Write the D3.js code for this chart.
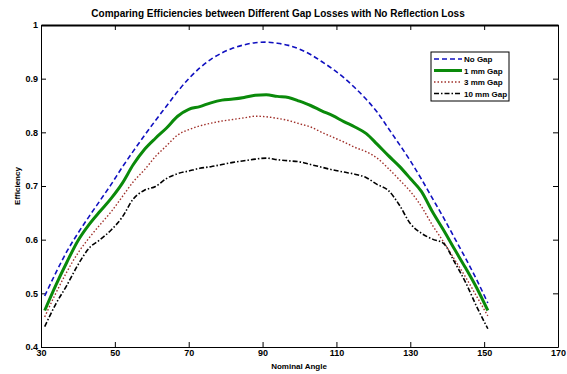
<!DOCTYPE html>
<html>
<head>
<meta charset="utf-8">
<script src="https://cdn.jsdelivr.net/npm/d3@7/dist/d3.min.js"></script>
<style>
  html, body { margin: 0; padding: 0; background: #fff; }
  svg text { font-family: "Liberation Sans", Arial, sans-serif; font-weight: bold; fill: #000; }
</style>
</head>
<body>
<svg id="chart" width="567" height="374"></svg>
<script>
// Nominal angle (degrees) at which each efficiency was sampled
const angles = [31, 34, 37, 40, 43, 46, 49, 52, 55, 58, 61, 64, 67, 70, 73, 76, 79, 82, 85, 88,
                91, 94, 97, 100, 103, 106, 109, 112, 115, 118, 121, 124, 127, 130, 133, 136, 139, 142, 145, 148, 151];

const noGap = [0.495, 0.538, 0.578, 0.612, 0.643, 0.673, 0.703, 0.735, 0.765, 0.794, 0.822, 0.849, 0.876, 0.900,
               0.920, 0.936, 0.948, 0.957, 0.963, 0.967, 0.968, 0.966, 0.962, 0.955, 0.945, 0.932, 0.918, 0.902,
               0.883, 0.862, 0.838, 0.808, 0.778, 0.747, 0.713, 0.677, 0.641, 0.603, 0.565, 0.525, 0.482];

const gap1mm = [0.468, 0.515, 0.558, 0.598, 0.628, 0.653, 0.677, 0.705, 0.740, 0.768, 0.789, 0.808, 0.830, 0.843,
                0.848, 0.855, 0.860, 0.862, 0.865, 0.869, 0.870, 0.867, 0.865, 0.858, 0.850, 0.840, 0.831, 0.820,
                0.810, 0.798, 0.778, 0.757, 0.737, 0.714, 0.690, 0.652, 0.618, 0.582, 0.547, 0.510, 0.468];

const gap3mm = [0.456, 0.500, 0.540, 0.575, 0.603, 0.628, 0.652, 0.680, 0.708, 0.730, 0.755, 0.775, 0.795, 0.805,
                0.812, 0.817, 0.821, 0.824, 0.827, 0.830, 0.829, 0.826, 0.822, 0.816, 0.810, 0.800, 0.791, 0.782,
                0.772, 0.764, 0.752, 0.733, 0.712, 0.690, 0.662, 0.627, 0.596, 0.563, 0.530, 0.494, 0.458];

const gap10mm = [0.438, 0.480, 0.515, 0.553, 0.584, 0.600, 0.618, 0.642, 0.676, 0.692, 0.699, 0.714, 0.723, 0.728,
                 0.733, 0.736, 0.740, 0.744, 0.747, 0.750, 0.752, 0.749, 0.747, 0.745, 0.740, 0.735, 0.730, 0.726,
                 0.722, 0.716, 0.703, 0.692, 0.665, 0.630, 0.612, 0.601, 0.593, 0.558, 0.520, 0.475, 0.434];

const seriesNames = ["No Gap", "1 mm Gap", "3 mm Gap", "10 mm Gap"];
const xTicks = [30, 50, 70, 90, 110, 130, 150, 170];
const yTicks = [0.4, 0.5, 0.6, 0.7, 0.8, 0.9, 1];

const titleText = "Comparing Efficiencies between Different Gap Losses with No Reflection Loss";
const xLabel = "Nominal Angle";
const yLabel = "Efficiency";

// line styles per series
const styles = [
  { color: "#1010c0", width: 1.6, dash: "5,3" },
  { color: "#0a8a0a", width: 3,   dash: null },
  { color: "#a0302a", width: 1.4, dash: "1.5,2" },
  { color: "#000000", width: 1.6, dash: "5,2,1.5,2" }
];

const svg = d3.select("#chart");
const m = { left: 41, right: 558, top: 25, bottom: 347 };

const x = d3.scaleLinear().domain([30, 170]).range([m.left, m.right]);
const y = d3.scaleLinear().domain([0.4, 1]).range([m.bottom, m.top]);

const tickLen = 5;

// axes: bottom and left with labels, top and right mirrored ticks
const gx = svg.append("g").attr("transform", `translate(0,${m.bottom})`)
  .call(d3.axisBottom(x).tickValues(xTicks).tickSizeInner(-tickLen).tickSizeOuter(0).tickPadding(3).tickFormat(d3.format("d")));
const gy = svg.append("g").attr("transform", `translate(${m.left},0)`)
  .call(d3.axisLeft(y).tickValues(yTicks).tickSizeInner(-tickLen).tickSizeOuter(0).tickPadding(3)
    .tickFormat(d => d === 1 ? "1" : d3.format(".1f")(d)));
const gt = svg.append("g").attr("transform", `translate(0,${m.top})`)
  .call(d3.axisTop(x).tickValues(xTicks).tickSizeInner(-tickLen).tickSizeOuter(0).tickFormat(""));
const gr = svg.append("g").attr("transform", `translate(${m.right},0)`)
  .call(d3.axisRight(y).tickValues(yTicks).tickSizeInner(-tickLen).tickSizeOuter(0).tickFormat(""));

[gx, gy, gt, gr].forEach(g => {
  g.selectAll(".domain").attr("stroke", "#000").attr("stroke-width", 1);
  g.selectAll(".tick line").attr("stroke", "#000");
  g.selectAll("text").attr("font-size", 9).style("font-family", "'Liberation Sans', Arial, sans-serif")
    .style("font-weight", "bold").attr("fill", "#000");
});
gt.select(".domain").attr("stroke-width", 2);

// series lines
const allSeries = [noGap, gap1mm, gap3mm, gap10mm];
const line = d3.line().x((d, i) => x(angles[i])).y(d => y(d)).curve(d3.curveMonotoneX);
allSeries.forEach((vals, k) => {
  const s = styles[k];
  svg.append("path")
    .datum(vals)
    .attr("d", line)
    .attr("fill", "none")
    .attr("stroke", s.color)
    .attr("stroke-width", s.width)
    .attr("stroke-dasharray", s.dash);
});

// title and axis labels
svg.append("text").attr("x", 278).attr("y", 17).attr("text-anchor", "middle")
  .attr("font-size", 10).text(titleText);
svg.append("text").attr("x", 299).attr("y", 369).attr("text-anchor", "middle")
  .attr("font-size", 8).text(xLabel);
svg.append("text").attr("transform", "translate(20,186) rotate(-90)").attr("text-anchor", "middle")
  .attr("font-size", 8).text(yLabel);

// legend
const lg = svg.append("g").attr("transform", "translate(431,52)");
lg.append("rect").attr("width", 78).attr("height", 49).attr("fill", "#fff").attr("stroke", "#000").attr("stroke-width", 1);
seriesNames.forEach((name, k) => {
  const s = styles[k];
  const yy = 7 + k * 11.5;
  lg.append("line").attr("x1", 3).attr("x2", 31).attr("y1", yy).attr("y2", yy)
    .attr("stroke", s.color).attr("stroke-width", s.width).attr("stroke-dasharray", s.dash);
  lg.append("text").attr("x", 33).attr("y", yy + 3).attr("font-size", 8).text(name);
});
</script>
</body>
</html>
